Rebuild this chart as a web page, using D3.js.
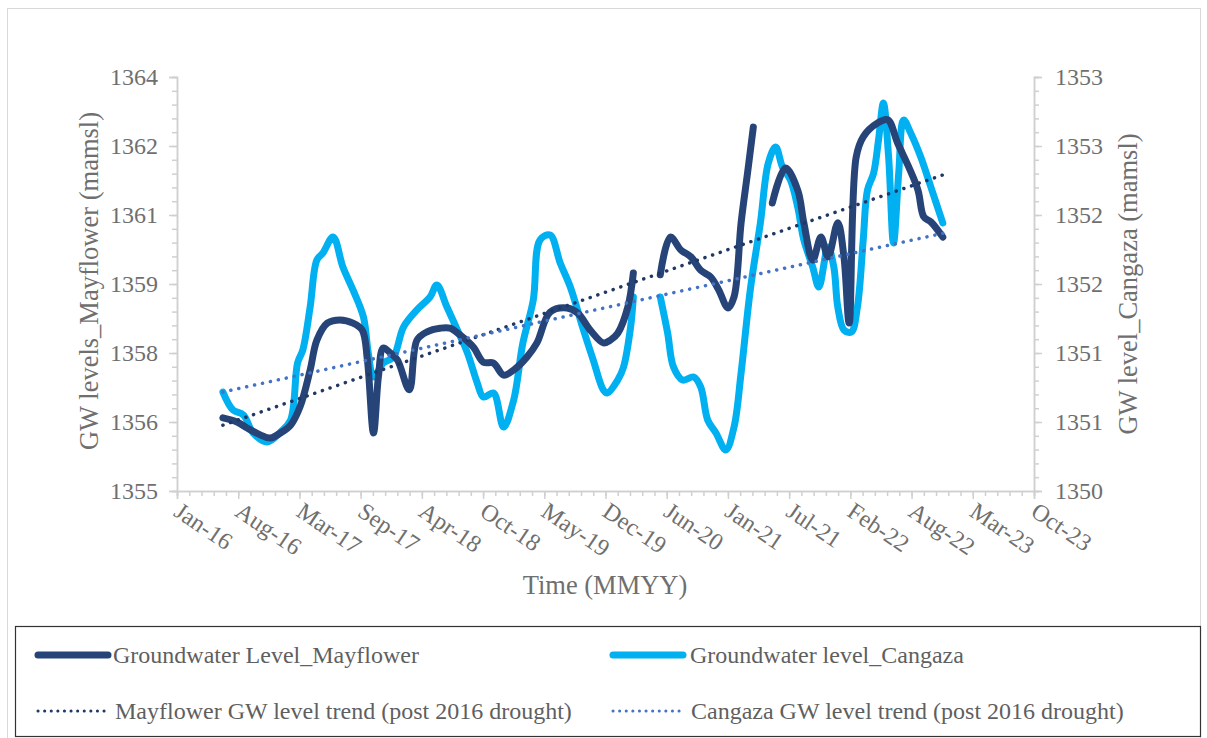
<!DOCTYPE html>
<html><head><meta charset="utf-8">
<script src="https://cdn.jsdelivr.net/npm/d3@7"></script>
<style>
body{margin:0;background:#fff}
svg{display:block}
text{font-family:"Liberation Serif","Times New Roman",serif;fill:#6f6f6f}
</style>
</head><body>
<svg id="chart" width="1207" height="738"></svg>
<script>
// ---- DATA ----
const mayflower = [
 ["2016-06-29",1356.59],["2016-08-14",1356.50],["2016-09-16",1356.37],["2016-10-29",1356.22],
 ["2016-12-01",1356.15],["2017-01-03",1356.26],["2017-02-05",1356.43],["2017-03-08",1356.83],
 ["2017-04-10",1357.63],["2017-05-02",1358.28],["2017-06-05",1358.65],["2017-07-17",1358.72],
 ["2017-08-28",1358.65],["2017-09-27",1358.50],["2017-10-14",1357.85],["2017-11-03",1356.26],
 ["2017-11-19",1357.48],["2017-12-05",1358.11],["2017-12-28",1358.00],["2018-01-20",1357.85],
 ["2018-02-28",1357.20],["2018-03-25",1358.28],["2018-04-27",1358.46],["2018-06-09",1358.54],
 ["2018-07-11",1358.54],["2018-08-13",1358.39],["2018-09-25",1358.13],["2018-10-28",1357.80],
 ["2018-11-30",1357.78],["2019-01-02",1357.52],["2019-02-04",1357.63],["2019-03-19",1357.91],
 ["2019-04-21",1358.22],["2019-06-03",1358.89],["2019-07-28",1358.98],["2019-09-01",1358.87],
 ["2019-10-12",1358.50],["2019-11-24",1358.22],["2019-12-17",1358.28],["2020-01-10",1358.43],
 ["2020-02-12",1359.00],["2020-03-01",1359.74],
 ["2020-04-15",null],
 ["2020-05-28",1359.70],["2020-06-30",1360.52],["2020-08-03",1360.24],["2020-09-05",1360.09],
 ["2020-10-07",1359.80],["2020-11-09",1359.65],["2020-12-05",1359.37],["2021-01-04",1358.98],
 ["2021-01-24",1359.22],["2021-02-16",1360.83],["2021-03-09",1361.91],["2021-03-28",1362.91],
 ["2021-04-28",null],
 ["2021-05-29",1361.26],["2021-07-11",1362.02],["2021-08-20",1361.54],["2021-09-09",1360.83],
 ["2021-10-08",1360.02],["2021-11-04",1360.52],["2021-11-27",1360.09],["2021-12-29",1360.83],
 ["2022-01-18",1360.09],["2022-02-04",1358.65],["2022-02-27",1362.26],["2022-03-22",1362.70],
 ["2022-05-08",1363.00],["2022-06-10",1363.07],["2022-07-12",1362.57],["2022-08-18",1362.04],
 ["2022-09-17",1361.54],["2022-10-06",1360.96],["2022-10-29",1360.85],["2022-12-07",1360.52]
];
const cangaza = [
 ["2016-06-29",1350.717],["2016-08-01",1350.587],["2016-09-04",1350.551],["2016-10-06",1350.420],
 ["2016-11-21",1350.355],["2017-01-03",1350.428],["2017-02-05",1350.514],["2017-02-28",1350.928],
 ["2017-03-17",1351.022],["2017-04-10",1351.333],["2017-05-02",1351.674],["2017-05-22",1351.725],
 ["2017-06-24",1351.841],["2017-07-26",1351.623],["2017-08-28",1351.457],["2017-10-01",1351.261],
 ["2017-10-17",1351.000],["2017-11-03",1350.826],["2017-12-05",1350.928],["2018-01-07",1350.971],
 ["2018-02-09",1351.188],["2018-03-25",1351.312],["2018-05-07",1351.406],["2018-05-29",1351.493],
 ["2018-07-01",1351.333],["2018-08-04",1351.167],["2018-09-06",1351.000],["2018-10-08",1350.783],
 ["2018-10-28",1350.681],["2018-11-30",1350.710],["2019-01-02",1350.464],["2019-02-04",1350.659],
 ["2019-03-06",1351.072],["2019-04-09",1351.384],["2019-05-01",1351.819],["2019-06-03",1351.855],
 ["2019-07-06",1351.652],["2019-08-08",1351.478],["2019-09-20",1351.167],["2019-10-22",1350.949],
 ["2019-11-24",1350.732],["2019-12-07",1350.710],["2020-01-10",1350.804],["2020-01-29",1350.899],
 ["2020-02-21",1351.188],["2020-03-01",1351.406],
 ["2020-04-15",null],
 ["2020-05-28",1351.406],["2020-06-21",1351.145],["2020-07-10",1350.899],["2020-08-09",1350.804],
 ["2020-09-14",1350.826],["2020-10-07",1350.754],["2020-10-30",1350.514],["2020-11-26",1350.420],
 ["2020-12-28",1350.297],["2021-01-24",1350.464],["2021-02-16",1350.855],["2021-03-18",1351.457],
 ["2021-04-20",1351.942],["2021-05-16",1352.377],["2021-06-09",1352.493],["2021-07-01",1352.348],
 ["2021-07-27",1352.254],["2021-08-20",1352.058],["2021-09-09",1351.819],["2021-10-08",1351.623],
 ["2021-10-28",1351.478],["2021-11-27",1351.768],["2021-12-16",1351.623],["2021-12-29",1351.333],
 ["2022-01-18",1351.167],["2022-02-11",1351.152],["2022-03-03",1351.333],["2022-03-22",1351.819],
 ["2022-04-05",1352.181],["2022-04-25",1352.304],["2022-05-11",1352.543],["2022-05-27",1352.812],
 ["2022-06-13",1352.420],["2022-06-29",1351.797],["2022-07-16",1352.304],["2022-08-01",1352.688],
 ["2022-08-24",1352.594],["2022-09-26",1352.420],["2022-10-29",1352.203],["2022-12-07",1351.942]
];
const mayflowerTrend = [["2016-06-29",1356.43],["2022-12-07",1361.87]];
const cangazaTrend   = [["2016-06-29",1350.717],["2022-12-07",1351.867]];

const xTickDates = ["2016-01-31","2016-08-18","2017-03-06","2017-09-22","2018-04-10","2018-10-27",
 "2019-05-15","2019-12-01","2020-06-18","2021-01-04","2021-07-23","2022-02-08","2022-08-27",
 "2023-03-15","2023-10-01"];
const leftTickValues = [1355,1356.5,1358,1359.5,1361,1362.5,1364];
const leftTickLabels = ["1355","1356","1358","1359","1361","1362","1364"];
const rightTickValues = [1350,1350.5,1351,1351.5,1352,1352.5,1353];
const rightTickLabels = ["1350","1351","1351","1352","1352","1353","1353"];

const legendLabels = ["Groundwater Level_Mayflower","Groundwater level_Cangaza",
 "Mayflower GW level trend (post 2016 drought)","Cangaza GW level trend (post 2016 drought)"];

// ---- DRAWING ----
const parse = d3.timeParse("%Y-%m-%d");
const svg = d3.select("#chart");
const L = 177, R = 1034, T = 77, B = 491;
const colDark = "#264478", colLight = "#00B0F0", colTrendDark = "#1F3864", colTrendLight = "#4472C4";
const axisCol = "#d0d0d0";
const txtCol = "#6f6f6f";

// outer frame
svg.append("rect").attr("x",7.5).attr("y",8.5).attr("width",1193).attr("height",740)
  .attr("fill","none").attr("stroke","#d9d9d9").attr("stroke-width",1);

const x = d3.scaleTime().domain([parse(xTickDates[0]), parse(xTickDates[xTickDates.length-1])]).range([L,R]);
const yL = d3.scaleLinear().domain([1355,1364]).range([B,T]);
const yR = d3.scaleLinear().domain([1350,1353]).range([B,T]);

// minor ticks
const start = parse(xTickDates[0]), end = parse(xTickDates[xTickDates.length-1]);
const xMinor = [];
for (let d = start; d <= end; d = d3.timeDay.offset(d, 40)) xMinor.push(d);
svg.append("g").attr("transform",`translate(0,${B})`)
  .call(d3.axisBottom(x).tickValues(xMinor).tickSize(5).tickFormat(""));
const gx = svg.append("g").attr("transform",`translate(0,${B})`)
  .call(d3.axisBottom(x).tickValues(xTickDates.map(parse)).tickSize(8).tickFormat(d3.timeFormat("%b-%y")));
gx.selectAll("text").attr("text-anchor","start").attr("dy",null).attr("y",null)
  .attr("transform","translate(-5,24) rotate(34)")
  .style("font-size","24px").style("fill",txtCol);

const lMinor = d3.range(0,31).map(i=>1355+i*0.3);
svg.append("g").attr("transform",`translate(${L},0)`)
  .call(d3.axisLeft(yL).tickValues(lMinor).tickSize(5).tickFormat(""));
const gl = svg.append("g").attr("transform",`translate(${L},0)`)
  .call(d3.axisLeft(yL).tickValues(leftTickValues).tickSize(8).tickPadding(11)
    .tickFormat((d,i)=>leftTickLabels[i]));
gl.selectAll("text").style("font-size","24px").style("fill",txtCol);

const rMinor = d3.range(0,31).map(i=>1350+i*0.1);
svg.append("g").attr("transform",`translate(${R},0)`)
  .call(d3.axisRight(yR).tickValues(rMinor).tickSize(5).tickFormat(""));
const gr = svg.append("g").attr("transform",`translate(${R},0)`)
  .call(d3.axisRight(yR).tickValues(rightTickValues).tickSize(8).tickPadding(13)
    .tickFormat((d,i)=>rightTickLabels[i]));
gr.selectAll("text").style("font-size","24px").style("fill",txtCol);

svg.selectAll(".domain").attr("stroke",axisCol).attr("stroke-width",1.5);
svg.selectAll(".tick line").attr("stroke",axisCol).attr("stroke-width",1.5);

// axis titles
svg.append("text").attr("transform","translate(98,281) rotate(-90)").attr("text-anchor","middle")
  .style("font-size","26.5px").text("GW levels_Mayflower (mamsl)");
svg.append("text").attr("transform","translate(1137,284) rotate(-90)").attr("text-anchor","middle")
  .style("font-size","26.5px").text("GW level_Cangaza (mamsl)");
svg.append("text").attr("x",605).attr("y",594).attr("text-anchor","middle")
  .style("font-size","26.5px").text("Time (MMYY)");

// series
const lineL = d3.line().defined(d=>d[1]!==null).x(d=>x(parse(d[0]))).y(d=>yL(d[1])).curve(d3.curveCatmullRom.alpha(0.5));
const lineR = d3.line().defined(d=>d[1]!==null).x(d=>x(parse(d[0]))).y(d=>yR(d[1])).curve(d3.curveCatmullRom.alpha(0.5));
const lineLs = d3.line().x(d=>x(parse(d[0]))).y(d=>yL(d[1]));
const lineRs = d3.line().x(d=>x(parse(d[0]))).y(d=>yR(d[1]));

svg.append("path").attr("d",lineR(cangaza)).attr("fill","none").attr("stroke",colLight)
  .attr("stroke-width",7).attr("stroke-linecap","round").attr("stroke-linejoin","round");
svg.append("path").attr("d",lineL(mayflower)).attr("fill","none").attr("stroke",colDark)
  .attr("stroke-width",7).attr("stroke-linecap","round").attr("stroke-linejoin","round");
svg.append("path").attr("d",lineLs(mayflowerTrend)).attr("fill","none").attr("stroke",colTrendDark)
  .attr("stroke-width",3.5).attr("stroke-linecap","round").attr("stroke-dasharray","0.1 8");
svg.append("path").attr("d",lineRs(cangazaTrend)).attr("fill","none").attr("stroke",colTrendLight)
  .attr("stroke-width",3.5).attr("stroke-linecap","round").attr("stroke-dasharray","0.1 8");

// legend
svg.append("rect").attr("x",15.5).attr("y",626.5).attr("width",1185).attr("height",110)
  .attr("fill","#fff").attr("stroke","#333").attr("stroke-width",1.2);
const legendItems = [
 {x:38, y:655, col:colDark, w:7, dash:null, tx:113},
 {x:613, y:655, col:colLight, w:7, dash:null, tx:690},
 {x:38, y:711, col:colTrendDark, w:3, dash:"0.1 6.5", tx:115},
 {x:613, y:711, col:colTrendLight, w:3, dash:"0.1 6.5", tx:691}
];
legendItems.forEach((it,i)=>{
  svg.append("line").attr("x1",it.x).attr("x2",it.x+70).attr("y1",it.y).attr("y2",it.y)
    .attr("stroke",it.col).attr("stroke-width",it.w).attr("stroke-linecap","round")
    .attr("stroke-dasharray",it.dash);
  svg.append("text").attr("x",it.tx).attr("y",it.y).attr("dy","0.33em")
    .style("font-size","24px").style("fill","#5f5f5f").text(legendLabels[i]);
});
</script>
</body></html>
